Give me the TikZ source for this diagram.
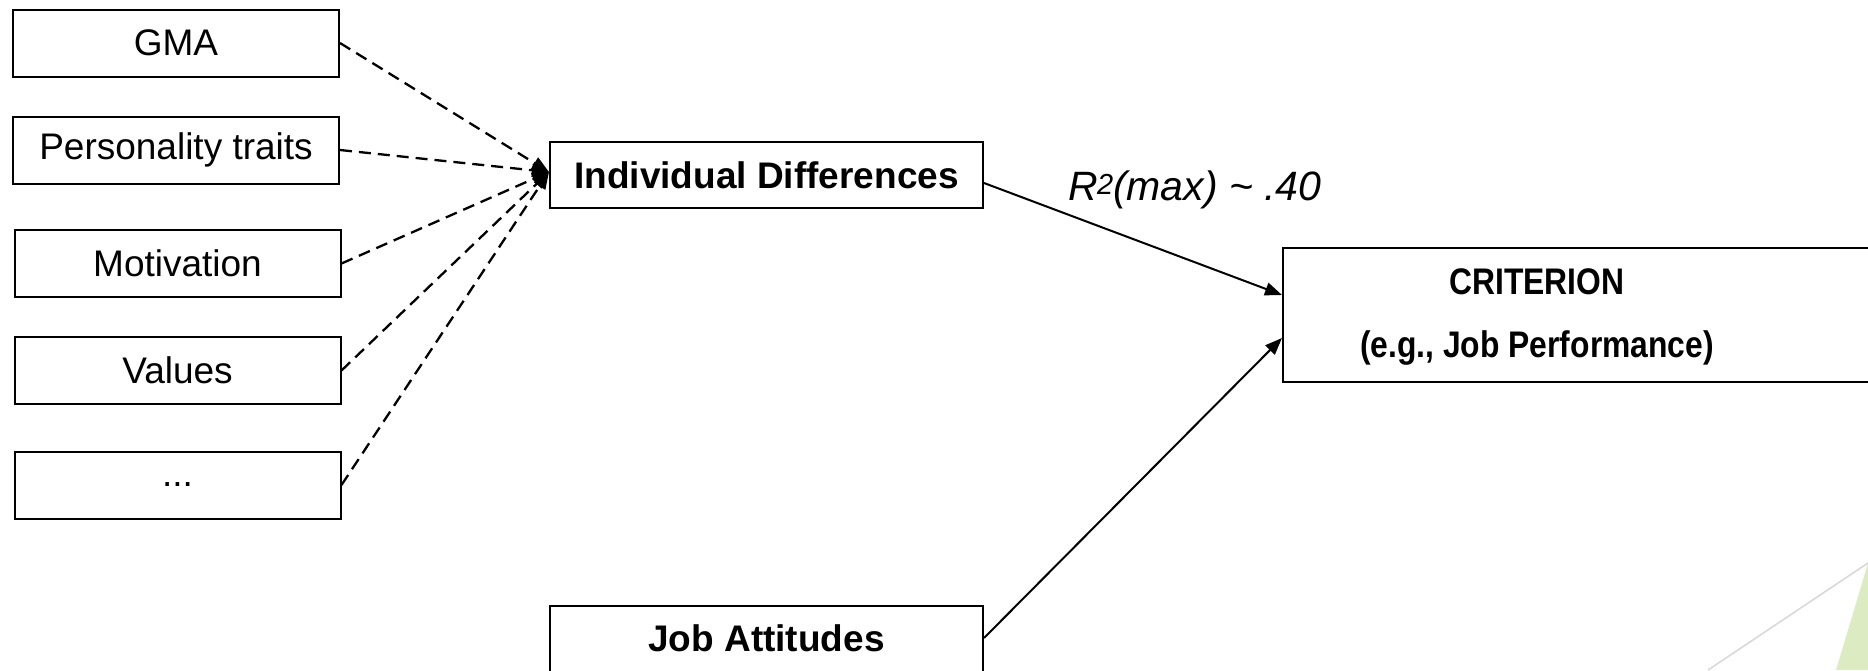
\documentclass[tikz,border=0pt]{standalone}
\usepackage{fontspec}
\setmainfont{Liberation Sans}
\newfontfamily\critfont[FakeStretch=0.86]{Liberation Sans}
\usetikzlibrary{arrows.meta}
\definecolor{leafgreen}{RGB}{221,235,195}
\definecolor{faintgray}{RGB}{215,215,215}
\tikzset{
  box/.style={draw=black, line width=2pt, fill=white, inner sep=0pt, anchor=center,
    font=\fontsize{37}{40}\selectfont},
  leftbox/.style={box, minimum width=326pt, minimum height=67pt},
  midbox/.style={box, minimum width=433pt, minimum height=66pt, font=\fontsize{37}{40}\selectfont\bfseries},
  crittext/.style={inner sep=0pt, anchor=center, font=\critfont\bfseries\fontsize{37}{40}\selectfont},
  dasharrow/.style={line width=2.3pt, dash pattern=on 12pt off 7pt, -{Triangle[length=17pt,width=13pt]}},
  solidarrow/.style={line width=2pt, -{Triangle[length=17pt,width=13pt]}}
}
\begin{document}
\begin{tikzpicture}[x=1pt,y=-1pt]
\useasboundingbox (0,0) rectangle (1868,670);
\clip (0,0) rectangle (1868,670);
% decoration bottom right
\fill[leafgreen] (1868,563) -- (1836,670) -- (1868,670) -- cycle;
\draw[faintgray, line width=1.5pt] (1708,670) -- (1868,563);
% left boxes
\node[leftbox] (gma) at (176,43) {GMA};
\node[leftbox] (pers) at (176,150) {Personality traits};
\node[leftbox] (motiv) at (177.5,263.5) {Motivation};
\node[leftbox] (vals) at (177.5,370.5) {Values};
\node[leftbox] (dots) at (177.5,485) {...};
% middle boxes
\node[midbox] (id) at (766.5,175) {Individual Differences};
\node[midbox, minimum height=90pt] (ja) at (766.5,651) {\raisebox{0pt}[0pt][0pt]{Job Attitudes}};
% criterion box
\node[box, minimum width=597pt, minimum height=134pt] (crit) at (1581.5,315) {};
\node[crittext] (crit1) at (1537,282) {CRITERION};
\node[crittext] (crit2) at (1537,348) {(e.g., Job Performance)};
% dashed arrows
\foreach \s in {gma,pers,motiv,vals,dots}
  \draw[dasharrow] (\s.east) -- ([yshift=3pt]id.west);
% solid arrows
\draw[solidarrow] ([yshift=-8pt]id.east) -- ([yshift=20pt]crit.west);
\draw[solidarrow] ([yshift=13pt]ja.east) -- ([yshift=-23pt]crit.west);
% label
\node[inner sep=0pt, anchor=center, font=\fontsize{41}{44}\selectfont\itshape] (r2) at (1195,190)
  {R\kern-1pt\raisebox{6pt}{\fontsize{29}{29}\selectfont 2}(max) \textasciitilde{} .40};
\end{tikzpicture}
\end{document}
